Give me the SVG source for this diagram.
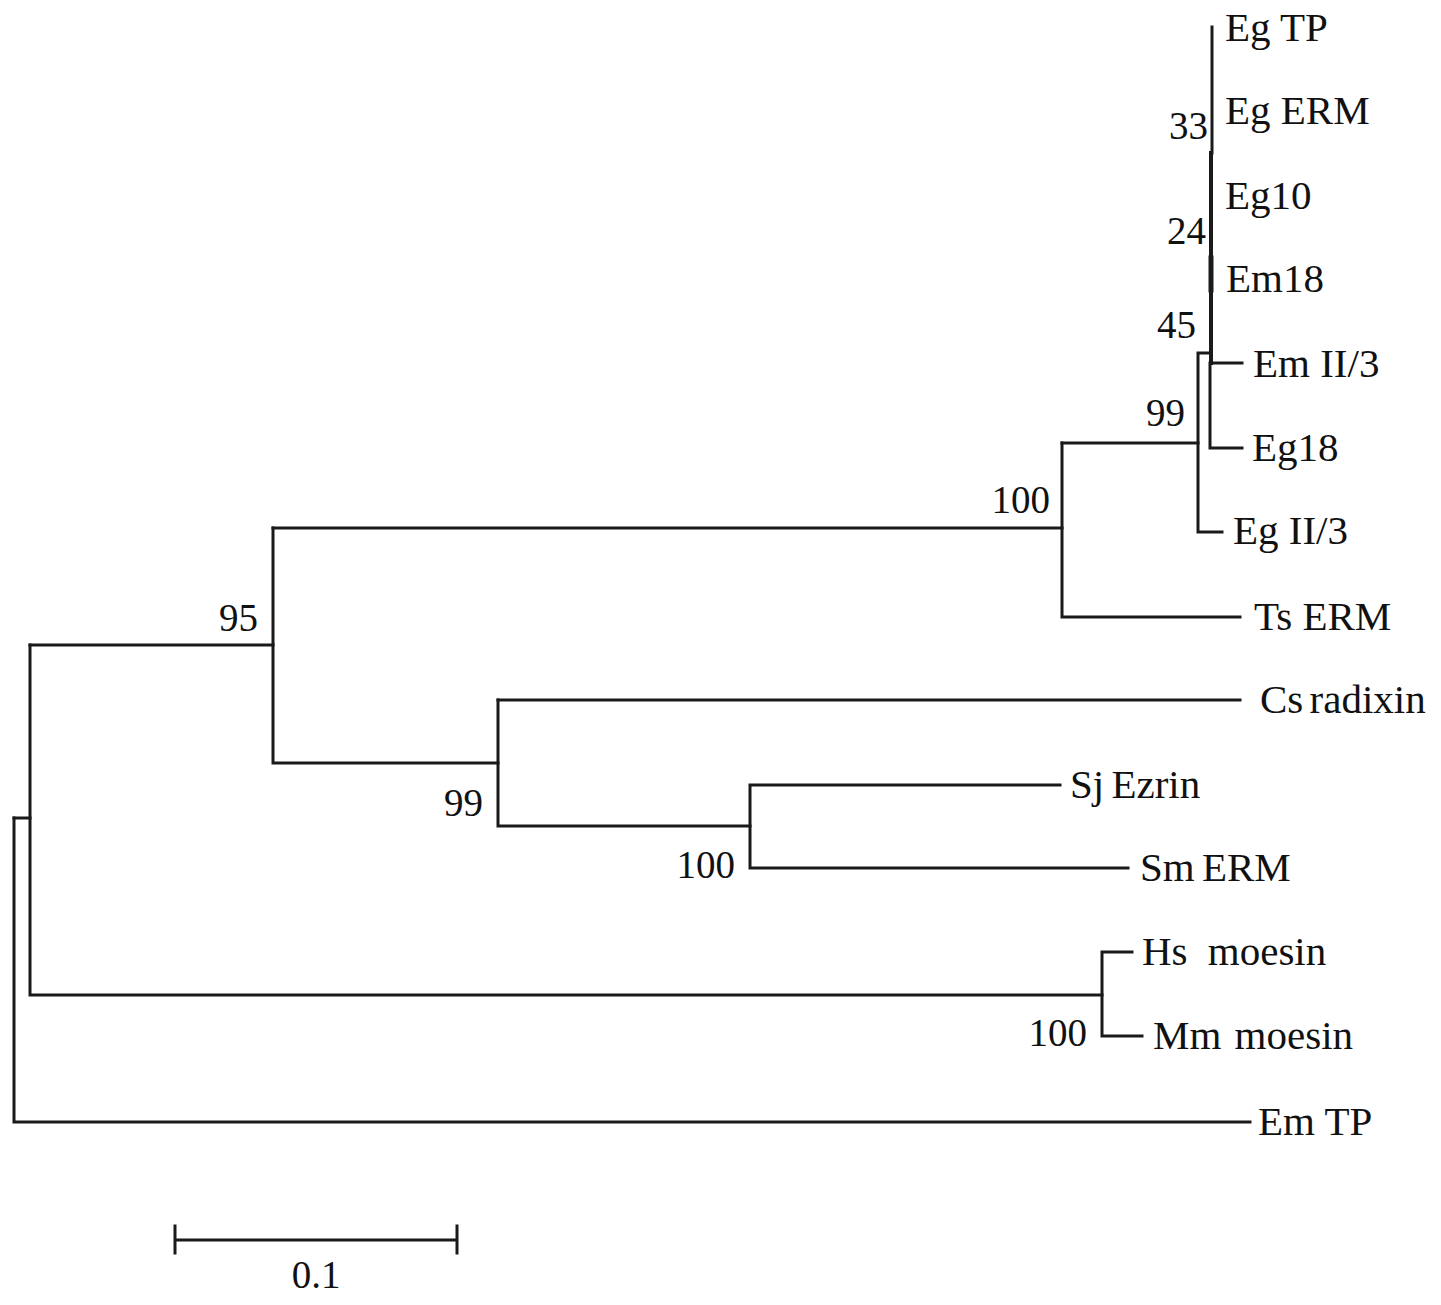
<svg xmlns="http://www.w3.org/2000/svg" width="1441" height="1305" viewBox="0 0 1441 1305">
<style>
.b{fill:none;stroke:#1a1a1a;stroke-width:3;stroke-linecap:square}
.t{font-family:"Liberation Serif","Times New Roman",serif;font-size:41px;fill:#111}
.n{font-family:"Liberation Serif","Times New Roman",serif;font-size:39px;fill:#111;text-anchor:end}
</style>
<rect width="1441" height="1305" fill="#fff"/>
<g id="connectors">
<path class="b" d="M1212,27 V153"/>
<path class="b" d="M1211,153 V363" style="stroke-width:4"/>
<path class="b" d="M1211,258 V290" style="stroke-width:5"/>
<path class="b" d="M1210,363 H1242 M1210,363 V448 H1242"/>
<path class="b" d="M1198,353 H1210 M1198,353 V532 H1222"/>
<path class="b" d="M1062,443 H1198"/>
<path class="b" d="M1062,443 V617 H1240"/>
<path class="b" d="M273,528 H1062"/>
<path class="b" d="M273,528 V763 H498"/>
<path class="b" d="M498,700 V826 H750"/>
<path class="b" d="M498,700 H1240"/>
<path class="b" d="M750,785 V868 H1128 M750,785 H1060"/>
<path class="b" d="M30,645 H273"/>
<path class="b" d="M30,645 V995 H1102"/>
<path class="b" d="M1102,952 V1036 H1142 M1102,952 H1132"/>
<path class="b" d="M14,818 H30"/>
<path class="b" d="M14,818 V1122 H1250"/>
</g>
<g id="leaves">
<g id="EgTP"><text class="t" x="1225" y="41">Eg TP</text></g>
<g id="EgERM"><text class="t" x="1225" y="124">Eg ERM</text></g>
<g id="Eg10"><text class="t" x="1225" y="209">Eg10</text></g>
<g id="Em18"><text class="t" x="1226" y="292">Em18</text></g>
<g id="EmII3"><text class="t" x="1253" y="377">Em II/3</text></g>
<g id="Eg18"><text class="t" x="1252" y="461">Eg18</text></g>
<g id="EgII3"><text class="t" x="1233" y="544">Eg II/3</text></g>
<g id="TsERM"><text class="t" x="1254" y="630">Ts ERM</text></g>
<g id="Csradixin"><text class="t" x="1260" y="713" word-spacing="-4">Cs radixin</text></g>
<g id="SjEzrin"><text class="t" x="1070" y="798" word-spacing="-3">Sj Ezrin</text></g>
<g id="SmERM"><text class="t" x="1140" y="881" word-spacing="-3">Sm ERM</text></g>
<g id="Hsmoesin"><text class="t" x="1142" y="965" word-spacing="10">Hs moesin</text></g>
<g id="Mmmoesin"><text class="t" x="1153" y="1049" word-spacing="3">Mm moesin</text></g>
<g id="EmTP"><text class="t" x="1258" y="1135">Em TP</text></g>
</g>
<g id="bootstrap">
<text class="n" x="1208" y="139">33</text>
<text class="n" x="1206" y="244">24</text>
<text class="n" x="1196" y="338">45</text>
<text class="n" x="1185" y="426">99</text>
<text class="n" x="1050" y="513">100</text>
<text class="n" x="258" y="631">95</text>
<text class="n" x="483" y="816">99</text>
<text class="n" x="735" y="878">100</text>
<text class="n" x="1087" y="1046">100</text>
</g>
<g id="scale">
<path class="b" d="M175,1240 H457 M175,1226 V1253 M457,1226 V1253"/>
<text class="t" x="316" y="1288" text-anchor="middle" style="font-size:39px">0.1</text>
</g>
</svg>
